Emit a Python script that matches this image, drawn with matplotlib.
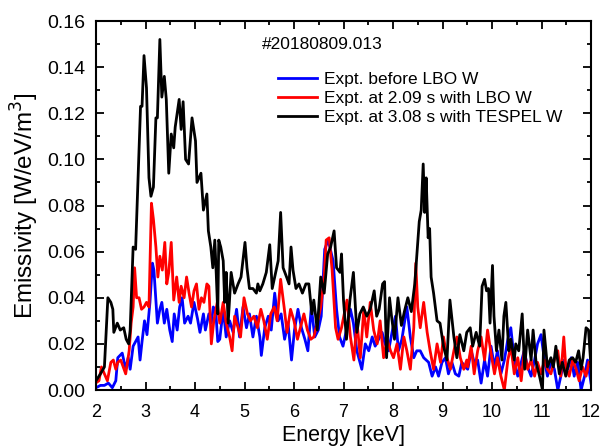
import matplotlib
matplotlib.use("Agg")
import matplotlib.pyplot as plt
from matplotlib.ticker import MultipleLocator, FormatStrFormatter

plt.rcParams['font.family'] = ['Liberation Sans', 'DejaVu Sans']

# ---------------- data ----------------
energy_black = [2.00, 2.09, 2.17, 2.24, 2.30, 2.34, 2.36, 2.43, 2.49, 2.56, 2.61, 2.66, 2.69, 2.75, 2.80,
                2.90, 2.93, 2.97, 3.02, 3.07, 3.11, 3.16, 3.21, 3.24, 3.29, 3.33, 3.38, 3.42, 3.47, 3.52,
                3.57, 3.60, 3.68, 3.72, 3.76, 3.81, 3.87, 3.94, 4.01, 4.04, 4.12, 4.17, 4.24, 4.27, 4.32,
                4.36, 4.40, 4.43, 4.46, 4.48, 4.52, 4.57, 4.60, 4.63, 4.67, 4.73, 4.80, 4.87, 4.93, 5.01,
                5.05, 5.10, 5.17, 5.24, 5.27, 5.31, 5.37, 5.44, 5.51, 5.56, 5.61, 5.68, 5.73, 5.78, 5.85,
                5.90, 5.94, 5.98, 6.04, 6.10, 6.17, 6.24, 6.30, 6.36, 6.40, 6.47, 6.54, 6.61, 6.68, 6.74,
                6.81, 6.86, 6.93, 6.96, 7.00, 7.06, 7.13, 7.20, 7.27, 7.33, 7.40, 7.47, 7.54, 7.62, 7.67,
                7.72, 7.79, 7.83, 7.87, 7.93, 7.97, 8.03, 8.10, 8.17, 8.23, 8.30, 8.37, 8.44, 8.48, 8.53,
                8.57, 8.61, 8.64, 8.67, 8.71, 8.74, 8.77, 8.82, 8.89, 8.95, 9.02, 9.09, 9.15, 9.23, 9.29,
                9.35, 9.43, 9.49, 9.56, 9.61, 9.68, 9.75, 9.80, 9.85, 9.89, 9.93, 9.96, 10.01, 10.04, 10.09,
                10.14, 10.20, 10.24, 10.28, 10.34, 10.38, 10.45, 10.48, 10.54, 10.61, 10.66, 10.72, 10.79,
                10.83, 10.89, 10.96, 11.02, 11.05, 11.12, 11.19, 11.24, 11.29, 11.36, 11.42, 11.49, 11.56,
                11.63, 11.69, 11.75, 11.80, 11.84, 11.90, 11.95, 12.00]
emis_black = [0.004, 0.007, 0.010, 0.040, 0.038, 0.035, 0.025, 0.029, 0.026, 0.027, 0.022, 0.020, 0.026, 0.062, 0.061,
              0.123, 0.123, 0.145, 0.131, 0.092, 0.084, 0.088, 0.118, 0.118, 0.152, 0.127, 0.136, 0.126, 0.094, 0.111,
              0.105, 0.114, 0.126, 0.113, 0.125, 0.100, 0.098, 0.118, 0.108, 0.090, 0.094, 0.078, 0.085, 0.069, 0.062,
              0.053, 0.065, 0.050, 0.033, 0.065, 0.062, 0.056, 0.038, 0.051, 0.029, 0.051, 0.042, 0.046, 0.049, 0.064,
              0.053, 0.044, 0.044, 0.042, 0.046, 0.043, 0.046, 0.051, 0.063, 0.044, 0.049, 0.056, 0.077, 0.053, 0.049,
              0.046, 0.062, 0.052, 0.044, 0.046, 0.042, 0.046, 0.046, 0.033, 0.039, 0.026, 0.049, 0.042, 0.059, 0.062,
              0.069, 0.053, 0.051, 0.059, 0.039, 0.022, 0.039, 0.051, 0.025, 0.033, 0.036, 0.032, 0.035, 0.043, 0.032,
              0.035, 0.046, 0.047, 0.014, 0.040, 0.032, 0.022, 0.040, 0.028, 0.034, 0.040, 0.034, 0.046, 0.058, 0.073,
              0.078, 0.098, 0.077, 0.092, 0.066, 0.070, 0.049, 0.042, 0.030, 0.029, 0.019, 0.013, 0.039, 0.023, 0.014,
              0.024, 0.017, 0.025, 0.027, 0.019, 0.025, 0.019, 0.045, 0.048, 0.043, 0.044, 0.029, 0.054, 0.032, 0.017,
              0.026, 0.013, 0.032, 0.038, 0.017, 0.022, 0.013, 0.020, 0.017, 0.033, 0.009, 0.026, 0.013,
              0.026, 0.012, 0.006, 0.000, 0.026, 0.010, 0.014, 0.010, 0.019, 0.007, 0.012, 0.006, 0.013,
              0.014, 0.012, 0.017, 0.009, 0.014, 0.027, 0.026, 0.010]

energy_blue = [2.00, 2.09, 2.17, 2.25, 2.33, 2.40, 2.44, 2.53, 2.60, 2.65, 2.69, 2.75, 2.80, 2.85, 2.89,
               2.93, 2.98, 3.03, 3.09, 3.14, 3.17, 3.24, 3.29, 3.33, 3.38, 3.43, 3.49, 3.54, 3.58, 3.64,
               3.69, 3.74, 3.79, 3.86, 3.91, 3.98, 4.05, 4.10, 4.17, 4.21, 4.28, 4.33, 4.37, 4.42, 4.46,
               4.50, 4.57, 4.63, 4.70, 4.77, 4.84, 4.90, 4.97, 5.04, 5.10, 5.17, 5.24, 5.31, 5.34, 5.41,
               5.48, 5.54, 5.61, 5.68, 5.74, 5.81, 5.88, 5.95, 6.01, 6.08, 6.15, 6.22, 6.28, 6.35, 6.42,
               6.49, 6.55, 6.62, 6.69, 6.79, 6.86, 6.92, 6.99, 7.07, 7.14, 7.20, 7.27, 7.37, 7.44, 7.51,
               7.58, 7.64, 7.71, 7.78, 7.84, 7.91, 7.98, 8.05, 8.11, 8.18, 8.28, 8.35, 8.42, 8.48, 8.55,
               8.62, 8.72, 8.79, 8.86, 8.92, 8.99, 9.06, 9.12, 9.19, 9.26, 9.33, 9.39, 9.46, 9.51, 9.58,
               9.64, 9.71, 9.78, 9.85, 9.91, 9.98, 10.05, 10.11, 10.18, 10.25, 10.32, 10.38, 10.45, 10.52,
               10.59, 10.65, 10.72, 10.79, 10.86, 10.92, 10.99, 11.06, 11.12, 11.19, 11.26, 11.33, 11.39,
               11.46, 11.53, 11.60, 11.66, 11.73, 11.80, 11.87, 11.93, 12.00]
emis_blue = [0.001, 0.002, 0.002, 0.003, 0.001, 0.004, 0.014, 0.016, 0.009, 0.014, 0.009, 0.019, 0.021, 0.023, 0.013,
             0.021, 0.030, 0.024, 0.038, 0.055, 0.052, 0.029, 0.035, 0.038, 0.029, 0.035, 0.026, 0.021, 0.033, 0.026,
             0.036, 0.040, 0.029, 0.032, 0.029, 0.038, 0.031, 0.025, 0.033, 0.026, 0.033, 0.029, 0.036, 0.034, 0.021,
             0.022, 0.035, 0.023, 0.030, 0.025, 0.035, 0.023, 0.036, 0.027, 0.033, 0.023, 0.032, 0.023, 0.015, 0.027,
             0.032, 0.026, 0.042, 0.030, 0.033, 0.022, 0.029, 0.013, 0.026, 0.035, 0.027, 0.022, 0.017, 0.036, 0.023,
             0.026, 0.032, 0.061, 0.065, 0.056, 0.035, 0.023, 0.019, 0.027, 0.035, 0.029, 0.017, 0.009, 0.020, 0.017,
             0.023, 0.019, 0.022, 0.025, 0.020, 0.017, 0.025, 0.032, 0.017, 0.022, 0.036, 0.023, 0.014, 0.017, 0.017,
             0.014, 0.012, 0.006, 0.010, 0.006, 0.012, 0.014, 0.007, 0.012, 0.007, 0.006, 0.012, 0.010, 0.009, 0.017,
             0.012, 0.013, 0.003, 0.013, 0.006, 0.019, 0.010, 0.017, 0.007, 0.013, 0.022, 0.027, 0.013, 0.006,
             0.012, 0.017, 0.010, 0.006, 0.013, 0.020, 0.024, 0.013, 0.006, 0.012, 0.009, 0.000, 0.006,
             0.013, 0.009, 0.014, 0.006, 0.012, 0.000, 0.006, 0.013, 0.003]

energy_red = [1.99, 2.06, 2.11, 2.17, 2.23, 2.30, 2.35, 2.40, 2.44, 2.50, 2.55, 2.60, 2.67, 2.71, 2.75,
              2.78, 2.82, 2.87, 2.92, 2.97, 3.02, 3.07, 3.12, 3.16, 3.21, 3.25, 3.29, 3.34, 3.39, 3.43,
              3.47, 3.52, 3.57, 3.63, 3.68, 3.72, 3.78, 3.83, 3.88, 3.93, 3.98, 4.03, 4.08, 4.13, 4.18,
              4.24, 4.28, 4.33, 4.38, 4.45, 4.50, 4.57, 4.63, 4.70, 4.75, 4.80, 4.87, 4.92, 4.99, 5.06,
              5.12, 5.19, 5.26, 5.33, 5.39, 5.46, 5.53, 5.60, 5.66, 5.73, 5.80, 5.86, 5.93, 6.00, 6.07,
              6.13, 6.20, 6.27, 6.34, 6.40, 6.47, 6.54, 6.61, 6.65, 6.71, 6.77, 6.84, 6.89, 6.96, 7.07,
              7.14, 7.21, 7.27, 7.34, 7.41, 7.47, 7.54, 7.61, 7.68, 7.74, 7.81, 7.88, 7.95, 8.01, 8.08,
              8.15, 8.22, 8.28, 8.35, 8.42, 8.46, 8.50, 8.55, 8.62, 8.69, 8.75, 8.82, 8.89, 8.96, 9.02,
              9.09, 9.16, 9.23, 9.29, 9.36, 9.43, 9.49, 9.51, 9.58, 9.64, 9.71, 9.78, 9.85, 9.91, 9.98,
              10.05, 10.11, 10.18, 10.25, 10.32, 10.38, 10.45, 10.52, 10.59, 10.65, 10.72, 10.79, 10.86,
              10.92, 10.99, 11.06, 11.12, 11.19, 11.26, 11.33, 11.39, 11.45, 11.49, 11.56, 11.63, 11.70,
              11.76, 11.83, 11.90, 11.96]
emis_red = [0.003, 0.004, 0.010, 0.007, 0.004, 0.012, 0.013, 0.009, 0.012, 0.013, 0.010, 0.007, 0.017, 0.029, 0.036,
            0.053, 0.040, 0.040, 0.035, 0.036, 0.038, 0.036, 0.081, 0.074, 0.062, 0.049, 0.058, 0.052, 0.064, 0.046,
            0.051, 0.064, 0.039, 0.049, 0.038, 0.045, 0.040, 0.049, 0.042, 0.036, 0.043, 0.046, 0.035, 0.040, 0.038,
            0.046, 0.045, 0.020, 0.030, 0.038, 0.029, 0.038, 0.029, 0.023, 0.017, 0.032, 0.027, 0.023, 0.040, 0.033,
            0.030, 0.032, 0.027, 0.035, 0.030, 0.022, 0.033, 0.036, 0.030, 0.048, 0.036, 0.025, 0.035, 0.030, 0.022,
            0.027, 0.033, 0.026, 0.022, 0.023, 0.029, 0.036, 0.049, 0.065, 0.066, 0.052, 0.027, 0.022, 0.027, 0.039,
            0.023, 0.013, 0.030, 0.014, 0.035, 0.023, 0.038, 0.026, 0.020, 0.030, 0.014, 0.022, 0.017, 0.014, 0.020,
            0.009, 0.023, 0.017, 0.009, 0.027, 0.055, 0.036, 0.027, 0.038, 0.025, 0.017, 0.009, 0.020, 0.012, 0.023,
            0.014, 0.009, 0.017, 0.023, 0.014, 0.009, 0.013, 0.010, 0.019, 0.007, 0.017, 0.023, 0.013, 0.026, 0.016,
            0.007, 0.014, 0.006, 0.000, 0.013, 0.019, 0.007, 0.014, 0.004, 0.017, 0.009, 0.013, 0.006,
            0.012, 0.007, 0.013, 0.009, 0.007, 0.013, 0.017, 0.006, 0.023, 0.010, 0.006, 0.013, 0.009,
            0.004, 0.010, 0.006, 0.012]

labels = ["Expt. before LBO W", "Expt. at 2.09 s with LBO W", "Expt. at 3.08 s with TESPEL W"]
colors = ["#0000ff", "#ff0000", "#000000"]
shot_label = "#20180809.013"

# ---------------- figure ----------------
fig = plt.figure(figsize=(6.0, 4.47), dpi=100)
ax = fig.add_axes([0.16, 0.1275, 0.825, 0.8255])

ax.plot(energy_blue, emis_blue, color=colors[0], lw=2.0, label=labels[0])
ax.plot(energy_red, emis_red, color=colors[1], lw=2.0, label=labels[1])
ax.plot(energy_black, emis_black, color=colors[2], lw=2.0, label=labels[2])

ax.set_xlim(2, 12)
ax.set_ylim(0, 0.16)
ax.xaxis.set_major_locator(MultipleLocator(1))
ax.xaxis.set_minor_locator(MultipleLocator(0.5))
ax.yaxis.set_major_locator(MultipleLocator(0.02))
ax.yaxis.set_minor_locator(MultipleLocator(0.01))
ax.yaxis.set_major_formatter(FormatStrFormatter('%.2f'))

ax.tick_params(which='both', direction='in', top=True, right=True, width=1.3)
ax.tick_params(which='major', length=6)
ax.tick_params(axis='x', which='major', pad=10, labelsize=13)
ax.tick_params(axis='y', which='major', pad=8, labelsize=14)
ax.tick_params(which='minor', length=3)
for s in ax.spines.values():
    s.set_linewidth(1.5)

ax.set_xlabel("Energy [keV]", fontsize=15.5, labelpad=3)
ax.set_ylabel("Emissivity [W/eV/m$^3$]", fontsize=17.5, labelpad=4)

ax.text(0.335, 0.935, shot_label, transform=ax.transAxes, fontsize=12.5, ha='left', va='center')
leg = ax.legend(loc='upper left', bbox_to_anchor=(0.368, 0.862), frameon=False, fontsize=12.5,
                handlelength=2.25, handletextpad=0.4, labelspacing=0.22, borderaxespad=0, borderpad=0)

fig.savefig("out.png", dpi=100)
